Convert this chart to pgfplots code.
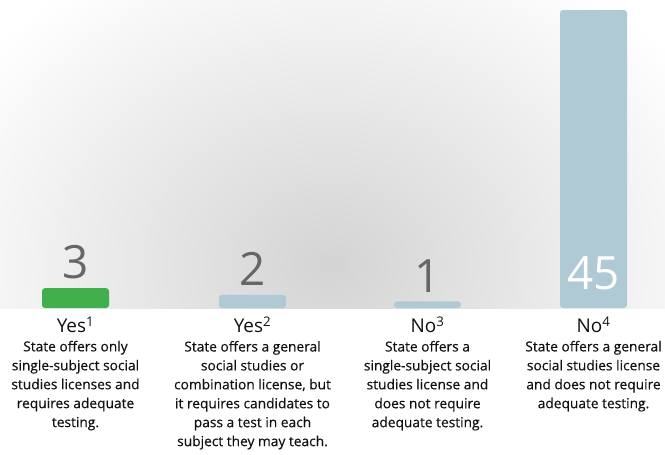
\documentclass[border=0pt]{standalone}
\usepackage{pgfplots}
\pgfplotsset{compat=1.18}
\usepackage{fontspec}
\setmainfont{Open Sans}
\newfontfamily\descfont[FakeBold=0.35]{Open Sans}
\definecolor{barGreen}{HTML}{41AF4B}
\definecolor{barBlue}{HTML}{AFCAD5}
\definecolor{numGray}{HTML}{666666}
\definecolor{txt}{HTML}{111111}

\begin{document}
\begin{tikzpicture}
% fixed page size
\path[use as bounding box] (0,0) rectangle (665bp,-455bp);
% soft grey glow behind the bars
\begin{scope}
  \clip (0,0) rectangle (665bp,-308bp);
  \shade[inner color=black!17, outer color=white] (330bp,-265bp) ellipse [x radius=430bp, y radius=350bp];
\end{scope}
\begin{axis}[
    at={(0,0)}, anchor=north west,
    scale only axis,
    width=665bp, height=308bp,
    xmin=0, xmax=665,
    ymin=0, ymax=46.51,
    axis line style={draw=none},
    tick style={draw=none},
    ybar, bar width=67bp, bar shift=0pt,
    xtick={75.5,252.5,427.5,593.5},
    ytick=\empty,
    major tick length=0pt,
    clip=false,
    /pgf/number format/assume math mode=true,
    xticklabel style={align=center, anchor=north, text=txt, inner sep=0pt, yshift=-8.5bp,
        font=\descfont\fontsize{13.8}{19}\selectfont},
    xticklabels={
        {{\normalfont\fontsize{19}{21}\selectfont Yes\textsuperscript{1}}\\State offers only\\single-subject social\\studies licenses and\\requires adequate\\testing.},
        {{\normalfont\fontsize{19}{21}\selectfont Yes\textsuperscript{2}}\\State offers a general\\social studies or\\combination license, but\\it requires candidates to\\pass a test in each\\subject they may teach.},
        {{\normalfont\fontsize{19}{21}\selectfont No\textsuperscript{3}}\\State offers a\\single-subject social\\studies license and\\does not require\\adequate testing.},
        {{\normalfont\fontsize{19}{21}\selectfont No\textsuperscript{4}}\\State offers a general\\social studies license\\and does not require\\adequate testing.}
    },
    nodes near coords,
    every node near coord/.append style={font=\fontsize{46}{46}\selectfont, text=numGray,
        inner sep=0pt, anchor=south, yshift=9bp},
]
\addplot[fill=barGreen, draw=none, rounded corners=3bp] coordinates {(75.5,3)};
\addplot[fill=barBlue, draw=none, rounded corners=3bp] coordinates {(252.5,2) (427.5,1)};
\addplot[fill=barBlue, draw=none, rounded corners=3bp, nodes near coords=\empty] coordinates {(593.5,45)};
\node[anchor=south, inner sep=0pt, text=white, font=\fontsize{46}{46}\selectfont, yshift=18bp] at (axis cs:593.5,0) {45};
\end{axis}
\end{tikzpicture}
\end{document}
